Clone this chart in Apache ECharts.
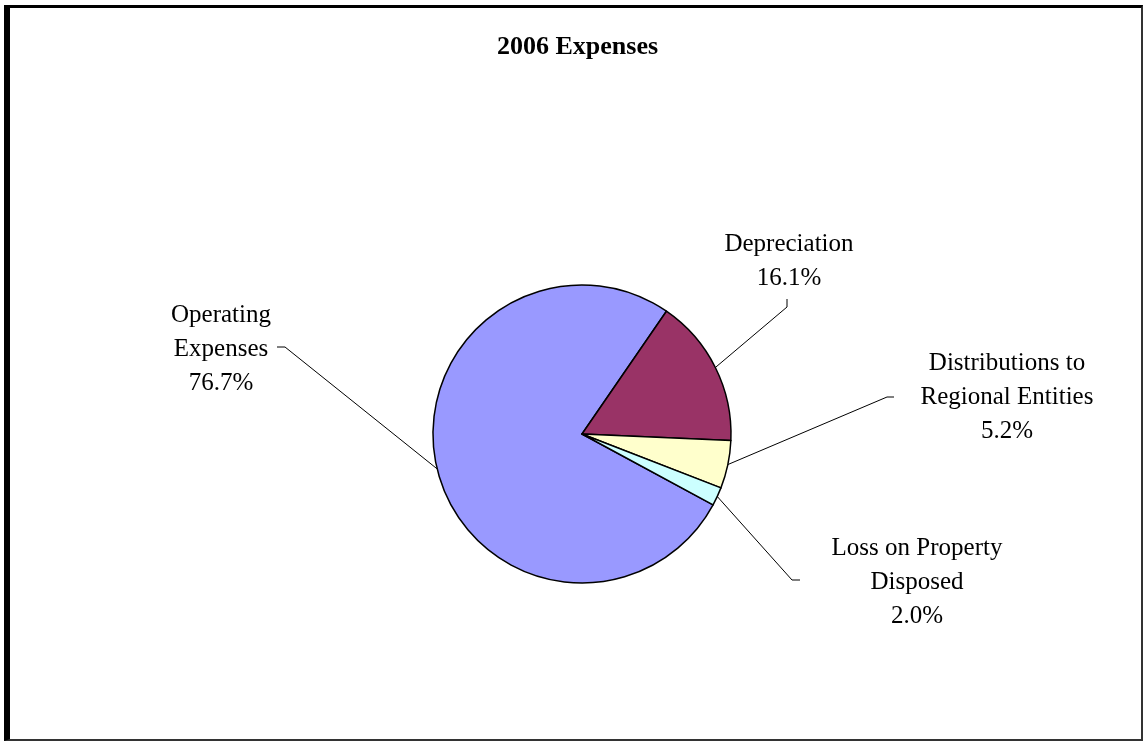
<!DOCTYPE html>
<html>
<head>
<meta charset="utf-8">
<title>2006 Expenses</title>
<script src="https://cdn.jsdelivr.net/npm/echarts@6/dist/echarts.min.js"></script>
<style>
    html, body { margin: 0; padding: 0; background: #fff; }
    .wrap { position: relative; width: 1145px; height: 744px; }
    #pieChart { width: 1145px; height: 744px; }
    .frame {
        position: absolute; left: 4px; top: 5px; right: 2px; bottom: 3px;
        border-left: 6px solid #000; border-top: 3px solid #000;
        border-right: 2px solid #333; border-bottom: 2px solid #333;
        pointer-events: none;
    }
</style>
</head>
<body>
<div class="wrap">
    <div id="pieChart"></div>
    <div class="frame"></div>
</div>
<script>
    // chart data
    var categories = ['Operating Expenses', 'Depreciation', 'Distributions to Regional Entities', 'Loss on Property Disposed']
    var labelNames = ['Operating\nExpenses', 'Depreciation', 'Distributions to\nRegional Entities', 'Loss on Property\nDisposed']
    var values = [76.7, 16.1, 5.2, 2.0]
    var colors = ['#9999FF', '#993366', '#FFFFCC', '#CCFFFF']

    // where each label sits, and the elbow / end of its leader line
    var labelCenters = [[221, 349], [789, 261], [1007, 397], [917, 582]]
    var lineElbows = [[285, 347], [787, 307], [887, 397], [792, 580]]
    var lineEnds = [[277, 347], [787, 299], [894, 397], [800, 580]]

    var myChart = echarts.init(document.getElementById('pieChart'))

    var seriesData = []
    categories.map(function (item, index) {
        seriesData.push({
            name: item,
            value: values[index],
            itemStyle: { color: colors[index] }
        })
    })

    var option = {
        backgroundColor: '#fff',
        animation: false,
        title: {
            text: '2006 Expenses',
            left: 492,
            top: 29,
            textStyle: {
                fontFamily: 'Liberation Serif',
                fontSize: 26,
                fontWeight: 'bold',
                color: '#000'
            }
        },
        series: [{
            type: 'pie',
            center: [582, 434],
            radius: 149,
            startAngle: -28.4,
            clockwise: true,
            avoidLabelOverlap: false,
            data: seriesData,
            itemStyle: {
                borderColor: '#000',
                borderWidth: 1.5
            },
            label: {
                show: true,
                position: 'outside',
                fontFamily: 'Liberation Serif',
                fontSize: 25,
                lineHeight: 34,
                color: '#000',
                align: 'center',
                formatter: function (p) {
                    return labelNames[p.dataIndex] + '\n' + p.value.toFixed(1) + '%'
                }
            },
            labelLine: {
                show: true,
                lineStyle: { color: '#000', width: 1 }
            },
            labelLayout: function (params) {
                var i = params.dataIndex
                var start = params.labelLinePoints ? params.labelLinePoints[0] : lineElbows[i]
                return {
                    x: labelCenters[i][0],
                    y: labelCenters[i][1],
                    align: 'center',
                    verticalAlign: 'middle',
                    labelLinePoints: [start, lineElbows[i], lineEnds[i]]
                }
            }
        }]
    }
    myChart.setOption(option)
</script>
</body>
</html>
